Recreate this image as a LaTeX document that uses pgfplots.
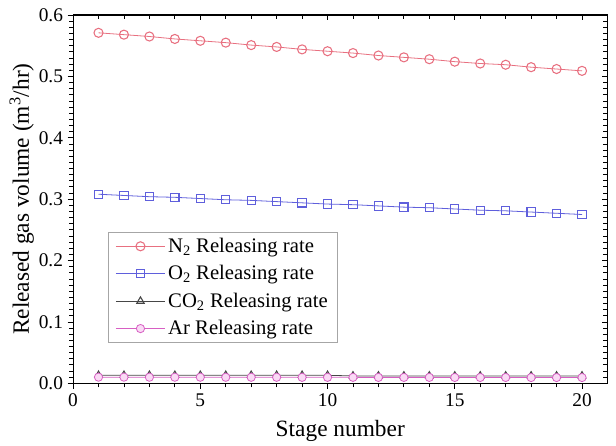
\documentclass[border=0pt]{standalone}
\usepackage{pgfplots}
\pgfplotsset{compat=1.18}
\usepackage{fontspec}
\setmainfont{Liberation Serif}

\definecolor{ncol}{RGB}{232,112,128}
\definecolor{ocol}{RGB}{95,95,220}
\definecolor{ccol}{RGB}{70,70,70}
\definecolor{acol}{RGB}{215,95,195}
\definecolor{afill}{RGB}{250,218,245}

\pgfplotstableread{
x  n2    o2    co2   ar
1  0.571 0.308 0.013 0.0100
2  0.568 0.306 0.013 0.0100
3  0.565 0.304 0.013 0.0099
4  0.561 0.303 0.013 0.0099
5  0.558 0.301 0.013 0.0099
6  0.555 0.299 0.013 0.0098
7  0.551 0.298 0.013 0.0098
8  0.548 0.296 0.013 0.0098
9  0.544 0.294 0.013 0.0097
10 0.541 0.292 0.013 0.0097
11 0.538 0.291 0.012 0.0097
12 0.534 0.289 0.012 0.0096
13 0.531 0.287 0.012 0.0096
14 0.528 0.286 0.012 0.0096
15 0.524 0.284 0.012 0.0095
16 0.521 0.282 0.012 0.0095
17 0.519 0.281 0.012 0.0095
18 0.515 0.279 0.012 0.0094
19 0.512 0.277 0.012 0.0094
20 0.509 0.275 0.012 0.0094
}\gasdata

\begin{document}
\begin{tikzpicture}
\pgfplotsset{
  frame/.style={
    scale only axis, width=400.5pt, height=276pt,
    xmin=0, xmax=21, ymin=0, ymax=0.6,
    xtick={0,5,...,20}, ytick={0,0.1,...,0.6},
    minor x tick num=4, minor y tick num=9,
    major tick length=4pt, minor tick length=3pt,
  }
}
\begin{axis}[
    frame, name=main,
    axis line style={black, line width=0.8pt},
    every tick/.style={black, line width=0.6pt},
    tick align=outside, xtick pos=bottom, ytick pos=left,
    xticklabels={0,5,10,15,20},
    yticklabels={0.0,0.1,0.2,0.3,0.4,0.5,0.6},
    ticklabel style={font=\fontsize{14.5}{16}\selectfont},
    xlabel={Stage number},
    ylabel={Released gas volume (m\textsuperscript{3}/hr)},
    label style={font=\fontsize{17.5}{20}\selectfont},
    xlabel style={at={(axis description cs:0.5,-0.128)}, anchor=center},
    ylabel style={at={(axis description cs:-0.096,0.5)}, anchor=center},
    legend style={at={(axis description cs:0.066,0.109)}, anchor=south west,
      draw=gray!70, line width=0.6pt, font=\fontsize{15.5}{17}\selectfont,
      row sep=4.3pt, inner xsep=5pt, inner ysep=2.5pt},
    legend cell align=left,
    legend image code/.code={
      \draw[mark repeat=2, mark phase=2, line width=0.6pt] plot coordinates {(0cm,0cm) (0.65cm,0cm) (1.3cm,0cm)};},
    every axis plot/.append style={line width=0.6pt, mark options={solid, line width=0.8pt}},
]
\addplot[ncol, mark=o, mark size=3.4pt] table[x=x, y=n2] {\gasdata};
\addlegendentry{N\textsubscript{2} Releasing rate}
\addplot[ocol, mark=square, mark size=3.1pt] table[x=x, y=o2] {\gasdata};
\addlegendentry{O\textsubscript{2} Releasing rate}
\addplot[ccol, mark=triangle, mark size=3.2pt] table[x=x, y=co2] {\gasdata};
\addlegendentry{CO\textsubscript{2} Releasing rate}
\addplot[acol, mark=*, mark size=3.1pt, mark options={fill=afill, draw=acol}] table[x=x, y=ar] {\gasdata};
\addlegendentry{Ar Releasing rate}
\end{axis}
\begin{axis}[
    frame, at={(main.south west)}, anchor=south west,
    axis line style={draw=none},
    every tick/.style={black, line width=0.6pt},
    tick align=inside, xtick pos=top, ytick pos=right,
    xticklabels={}, yticklabels={},
]
\end{axis}
\pgfresetboundingbox
\useasboundingbox ([shift={(-54.75pt,-46.5pt)}]main.south west) rectangle ([shift={(6.4pt,11.25pt)}]main.north east);
\end{tikzpicture}
\end{document}
